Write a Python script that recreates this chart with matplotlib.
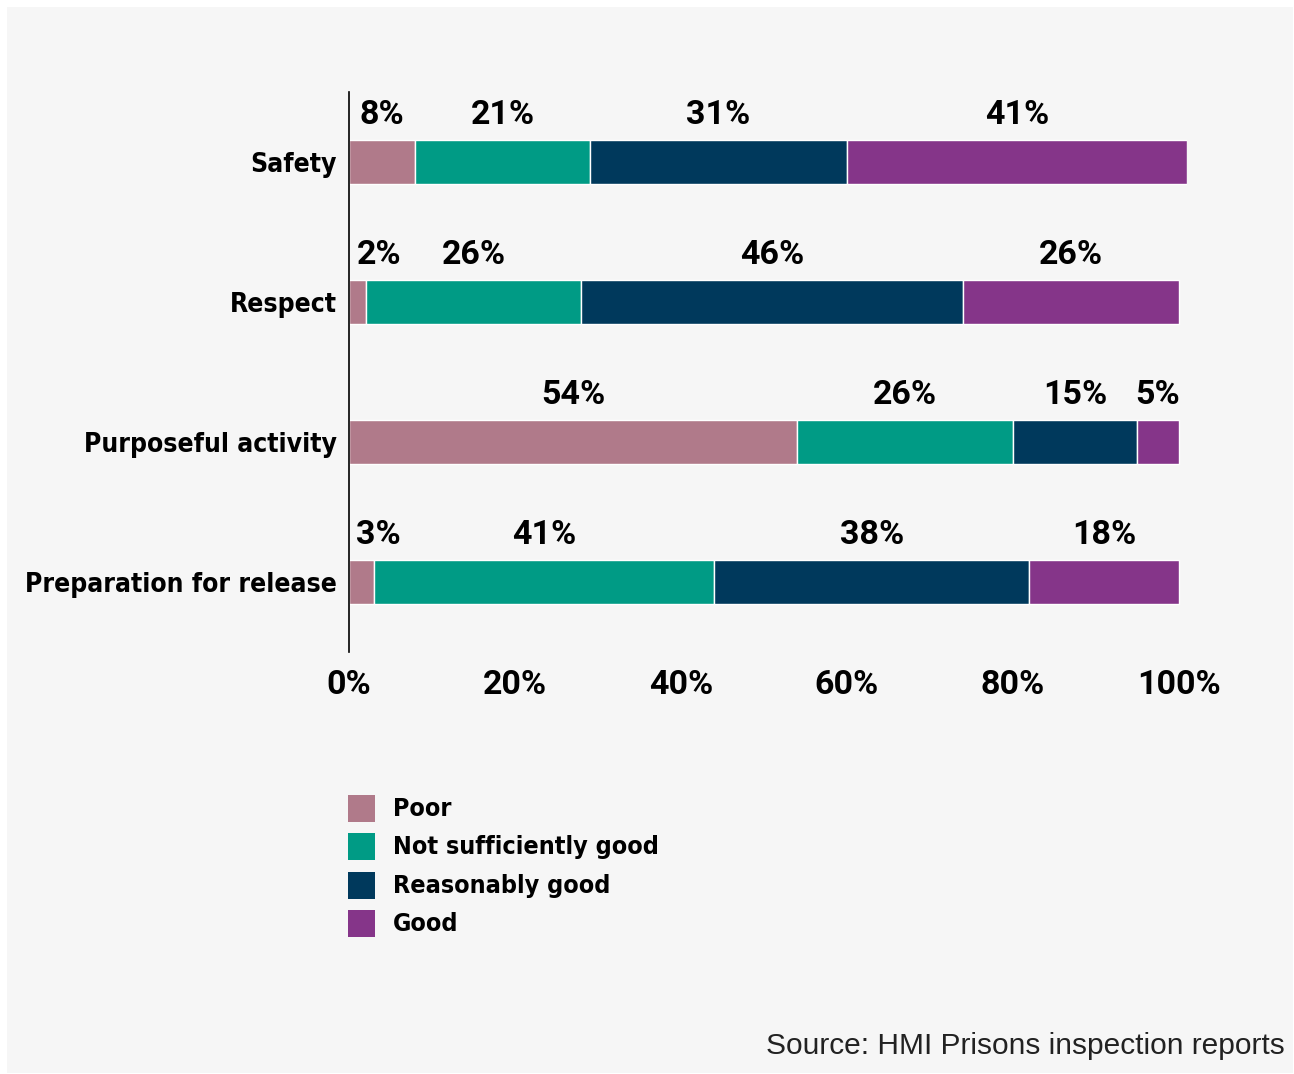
import matplotlib
matplotlib.use("Agg")
import matplotlib.pyplot as plt
from matplotlib.patches import Rectangle
from matplotlib import font_manager

# Ratings of prison inspections by healthy-prison test
categories = ["Safety", "Respect", "Purposeful activity", "Preparation for release"]
ratings = ["Poor", "Not sufficiently good", "Reasonably good", "Good"]
poor = [8, 2, 54, 3]
not_sufficiently_good = [21, 26, 26, 41]
reasonably_good = [31, 46, 15, 38]
good = [41, 26, 5, 18]
x_ticks = [0, 20, 40, 60, 80, 100]
x_tick_labels = ["0%", "20%", "40%", "60%", "80%", "100%"]
source_note = "Source: HMI Prisons inspection reports"

colors = ["#b07a8a", "#009b85", "#00395c", "#853589"]
series = [poor, not_sufficiently_good, reasonably_good, good]

names = {f.name for f in font_manager.fontManager.ttflist}
label_font = "Roboto" if "Roboto" in names else "DejaVu Sans"
narrow_kw = dict(family="DejaVu Sans", fontstretch="condensed", fontweight="bold")

W, H = 1294, 1074
fig = plt.figure(figsize=(W / 100, H / 100), dpi=100, facecolor="white")
fig.patches.append(Rectangle((7 / W, 1 / H), (W - 8) / W, (H - 8) / H,
                             transform=fig.transFigure, facecolor="#f6f6f6",
                             edgecolor="none", zorder=-10))

ax = fig.add_axes([349 / W, 1 - 652 / H, (1187 - 349) / W, (652 - 92) / H])
ax.set_facecolor("none")

ypos = list(range(len(categories)))
left = [0] * len(categories)
for vals, col in zip(series, colors):
    ax.barh(ypos, vals, left=left, height=0.312, color=col,
            edgecolor="white", linewidth=1.0)
    for i, v in enumerate(vals):
        cx = max(left[i] + v / 2, 3.6)
        ax.text(cx, i - 0.335, f"{v}%", ha="center", va="center",
                fontsize=24.5, fontweight="bold", family=label_font, color="black")
    left = [l + v for l, v in zip(left, vals)]

ax.set_xlim(0, 101)
ax.set_ylim(3.5, -0.5)
ax.set_yticks(ypos)
ax.set_yticklabels(categories, fontsize=19, **narrow_kw)
ax.set_xticks(x_ticks)
ax.set_xticklabels(x_tick_labels, fontsize=24.5, fontweight="bold", family=label_font)
ax.tick_params(axis="x", length=0, pad=12)
ax.tick_params(axis="y", length=0, pad=9)
for s in ["top", "right", "bottom"]:
    ax.spines[s].set_visible(False)
ax.spines["left"].set_linewidth(1.2)
ax.spines["left"].set_color("black")

# Legend drawn as squares with labels below the chart
leg_y = [808, 846, 885, 923]
for name, col, yc in zip(ratings, colors, leg_y):
    fig.patches.append(Rectangle((348 / W, 1 - (yc + 13.5) / H), 27 / W, 27 / H,
                                 transform=fig.transFigure, facecolor=col,
                                 edgecolor="none"))
    fig.text(393 / W, 1 - (yc + 1) / H, name, ha="left", va="center",
             fontsize=18, **narrow_kw)

fig.text(1285 / W, 1 - 1046 / H, source_note, ha="right", va="center",
         fontsize=21.5, family="Liberation Sans", color="#222222")

fig.savefig("out.png", dpi=100, facecolor=fig.get_facecolor())
